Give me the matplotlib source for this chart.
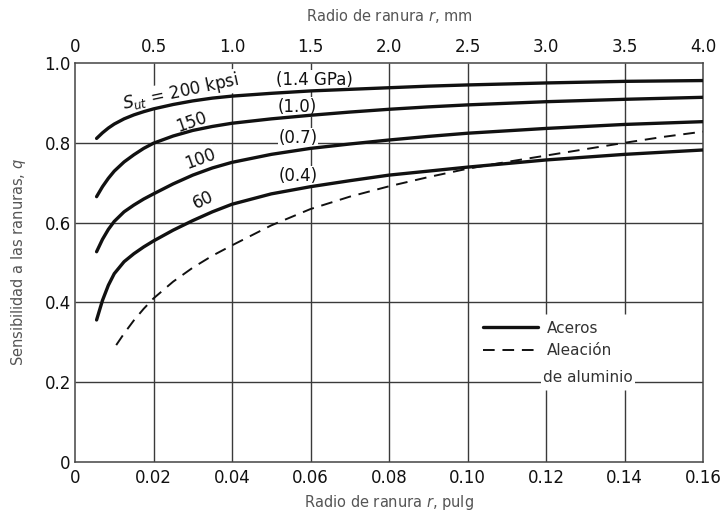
import matplotlib
matplotlib.use("Agg")
import matplotlib.pyplot as plt

plt.rcParams["font.family"] = ["DejaVu Sans"]
plt.rcParams["mathtext.fontset"] = "dejavusans"

# Notch radius (in) at which the steel curves were read
r_steel = [0.0055, 0.007, 0.0085, 0.01, 0.0125, 0.015, 0.0175, 0.02, 0.025, 0.03, 0.035,
           0.04, 0.05, 0.06, 0.07, 0.08, 0.09, 0.10, 0.12, 0.14, 0.16]
# Notch sensitivity q for each ultimate strength (kpsi)
q_200 = [0.811, 0.825, 0.837, 0.847, 0.860, 0.870, 0.878, 0.885, 0.896, 0.905, 0.912,
         0.917, 0.924, 0.930, 0.934, 0.938, 0.942, 0.945, 0.950, 0.954, 0.956]
q_150 = [0.665, 0.690, 0.711, 0.729, 0.752, 0.770, 0.786, 0.799, 0.817, 0.831, 0.841,
         0.849, 0.860, 0.869, 0.877, 0.884, 0.890, 0.895, 0.903, 0.909, 0.914]
q_100 = [0.527, 0.558, 0.583, 0.603, 0.627, 0.644, 0.659, 0.672, 0.697, 0.719, 0.737,
         0.751, 0.771, 0.786, 0.797, 0.807, 0.816, 0.824, 0.836, 0.846, 0.853]
q_60 = [0.356, 0.405, 0.443, 0.472, 0.502, 0.522, 0.539, 0.554, 0.581, 0.605, 0.627,
        0.646, 0.672, 0.690, 0.705, 0.719, 0.729, 0.739, 0.757, 0.771, 0.782]

# Aluminium alloy
r_al = [0.0105, 0.0125, 0.015, 0.0175, 0.02, 0.025, 0.03, 0.035, 0.04, 0.05, 0.06,
        0.07, 0.08, 0.09, 0.10, 0.11, 0.12, 0.13, 0.14, 0.15, 0.16]
q_al = [0.293, 0.322, 0.355, 0.384, 0.410, 0.452, 0.487, 0.517, 0.543, 0.593, 0.634,
        0.665, 0.691, 0.714, 0.735, 0.752, 0.768, 0.784, 0.800, 0.815, 0.828]

x_ticks_in = [0, 0.02, 0.04, 0.06, 0.08, 0.10, 0.12, 0.14, 0.16]
x_labels_in = ["0", "0.02", "0.04", "0.06", "0.08", "0.10", "0.12", "0.14", "0.16"]
x_ticks_mm = [0, 0.5, 1.0, 1.5, 2.0, 2.5, 3.0, 3.5, 4.0]
x_labels_mm = ["0", "0.5", "1.0", "1.5", "2.0", "2.5", "3.0", "3.5", "4.0"]
y_ticks = [0, 0.2, 0.4, 0.6, 0.8, 1.0]
y_labels = ["0", "0.2", "0.4", "0.6", "0.8", "1.0"]

INK = "#111111"
GRID = "#3a3a3a"
LABEL_GRAY = "#555555"

fig = plt.figure(figsize=(7.2, 5.12), dpi=100)
ax = fig.add_axes([75 / 720, 1 - 462 / 512, 628 / 720, 399 / 512])
ax.set_xlim(0, 0.16)
ax.set_ylim(0, 1.0)

# grid lines (two verticals are interrupted behind the legend)
ax.hlines([0.2, 0.4, 0.6, 0.8], 0, 0.16, color=GRID, lw=1.0, zorder=1)
for xv in x_ticks_in[1:-1]:
    if xv in (0.12, 0.14):
        ax.vlines(xv, 0, 0.18, color=GRID, lw=1.0, zorder=1)
        ax.vlines(xv, 0.372, 1.0, color=GRID, lw=1.0, zorder=1)
    else:
        ax.vlines(xv, 0, 1.0, color=GRID, lw=1.0, zorder=1)

steel_kw = dict(color=INK, lw=2.4, solid_capstyle="round", solid_joinstyle="round", zorder=3)
l_steel, = ax.plot(r_steel, q_200, **steel_kw)
ax.plot(r_steel, q_150, **steel_kw)
ax.plot(r_steel, q_100, **steel_kw)
ax.plot(r_steel, q_60, **steel_kw)
l_al, = ax.plot(r_al, q_al, color=INK, lw=1.4, dashes=(6, 4), zorder=3)

box = dict(facecolor="white", edgecolor="none", pad=0.6)
lab_kw = dict(fontsize=12, color=INK, ha="center", va="center", zorder=2, bbox=box)
ax.text(0.027, 0.927, r"$S_{ut}$ = 200 kpsi", rotation=12, **lab_kw)
ax.text(0.0297, 0.853, "150", rotation=19, **lab_kw)
ax.text(0.0318, 0.759, "100", rotation=20, **lab_kw)
ax.text(0.0327, 0.657, "60", rotation=25, **lab_kw)
ax.text(0.0611, 0.957, "(1.4 GPa)", **lab_kw)
ax.text(0.0566, 0.890, "(1.0)", **lab_kw)
ax.text(0.0568, 0.812, "(0.7)", **lab_kw)
ax.text(0.0568, 0.717, "(0.4)", **lab_kw)

leg = ax.legend([l_steel, l_al], ["Aceros", "Aleación"], loc="upper left",
                bbox_to_anchor=(0.1039, 0.354), bbox_transform=ax.transData,
                frameon=False, fontsize=11, handlelength=3.6, handletextpad=0.6,
                labelspacing=0.5, borderpad=0, borderaxespad=0)
for t in leg.get_texts():
    t.set_color("#333333")
ax.text(0.1192, 0.213, "de aluminio", fontsize=11, color="#333333", ha="left",
        va="center", zorder=2, bbox=dict(facecolor="white", edgecolor="none", pad=1.5))

for s in ax.spines.values():
    s.set_color("#444444")
    s.set_linewidth(1.1)

ax.set_xticks(x_ticks_in)
ax.set_xticklabels(x_labels_in)
ax.set_yticks(y_ticks)
ax.set_yticklabels(y_labels)
ax.tick_params(axis="both", length=0, labelsize=12, colors=INK)
ax.tick_params(axis="x", pad=5)
ax.tick_params(axis="y", pad=3)
ax.set_xlabel(r"Radio de ranura $r$, pulg", fontsize=10.5, color=LABEL_GRAY, labelpad=4)
ax.set_ylabel(r"Sensibilidad a las ranuras, $q$", fontsize=10.5, color=LABEL_GRAY, labelpad=12)

ax2 = ax.twiny()
ax2.set_xlim(0, 4.0)
ax2.set_xticks(x_ticks_mm)
ax2.set_xticklabels(x_labels_mm)
ax2.tick_params(axis="x", length=0, labelsize=12, colors=INK, pad=5)
ax2.set_xlabel(r"Radio de ranura $r$, mm", fontsize=10.5, color=LABEL_GRAY, labelpad=12)
for s in ax2.spines.values():
    s.set_visible(False)

fig.savefig("out.png", dpi=100)
